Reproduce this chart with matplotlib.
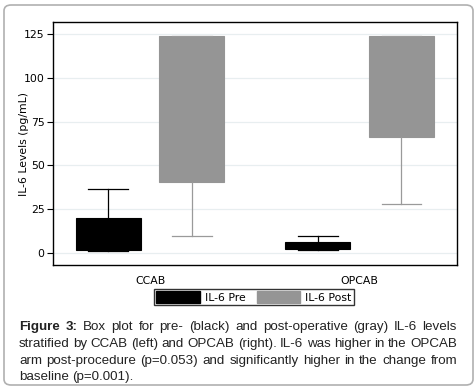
import matplotlib
matplotlib.use('Agg')
import matplotlib.pyplot as plt
from matplotlib.patches import FancyBboxPatch, Patch

# box stats (pg/mL)
groups = ['CCAB', 'OPCAB']
pre_q1 = [1.7, 2.3]
pre_q3 = [20.1, 6.1]
pre_lo = [1.3, 2.0]
pre_hi = [36.7, 9.9]
post_q1 = [40.5, 66.4]
post_q3 = [123.8, 123.8]
post_lo = [9.7, 28.0]
post_hi = [123.8, 123.8]
yticks = [0, 25, 50, 75, 100, 125]

caption_lines = [
    "Figure 3: Box plot for pre- (black) and post-operative (gray) IL-6 levels",
    "stratified by CCAB (left) and OPCAB (right).  IL-6 was higher in the OPCAB",
    "arm post-procedure (p=0.053) and significantly higher in the change from",
    "baseline (p=0.001).",
]

W, H = 477, 387
fig = plt.figure(figsize=(W / 100, H / 100), dpi=100)

# rounded outer frame
fig.patches.append(FancyBboxPatch((4 / W, 2 / H), 469 / W, 380 / H,
                                  boxstyle='round,pad=0,rounding_size=0.015',
                                  transform=fig.transFigure, fc='none',
                                  ec='#b0b0b0', lw=1.2, zorder=-1))

ax = fig.add_axes([53 / W, 1 - 265 / H, 404 / W, 243 / H])


def make_stats(q1, q3, lo, hi):
    return [dict(q1=a, q3=b, whislo=c, whishi=d, med=(a + b) / 2, fliers=[])
            for a, b, c, d in zip(q1, q3, lo, hi)]


pos = [1, 2]
ax.bxp(make_stats(pre_q1, pre_q3, pre_lo, pre_hi), positions=[p - 0.2 for p in pos],
       widths=0.31, capwidths=0.19, patch_artist=True, showfliers=False,
       boxprops=dict(facecolor='black', edgecolor='black', lw=0.8),
       medianprops=dict(color='black', lw=0),
       whiskerprops=dict(color='black', lw=0.9), capprops=dict(color='black', lw=0.9))
ax.bxp(make_stats(post_q1, post_q3, post_lo, post_hi), positions=[p + 0.2 for p in pos],
       widths=0.31, capwidths=0.19, patch_artist=True, showfliers=False,
       boxprops=dict(facecolor='#959595', edgecolor='#959595', lw=0.8),
       medianprops=dict(color='#959595', lw=0),
       whiskerprops=dict(color='#9a9a9a', lw=0.9), capprops=dict(color='#9a9a9a', lw=0.9))

ax.set_xlim(0.537, 2.465)
ax.set_ylim(-6.8, 131.8)
ax.set_xticks(pos)
ax.set_xticklabels(groups, fontsize=7.8)
ax.set_yticks(yticks)
ax.set_yticklabels([str(t) for t in yticks], fontsize=7.8)
ax.tick_params(axis='x', length=0, pad=8)
ax.tick_params(axis='y', length=4, width=0.8, pad=2)
ax.yaxis.grid(True, color='#e8eef0', lw=0.9)
ax.set_axisbelow(True)
for s in ax.spines.values():
    s.set_linewidth(1.0)
ax.set_ylabel('IL-6 Levels (pg/mL)', fontsize=7.8)
ax.yaxis.set_label_coords(-0.06, 0.5)

fig.legend(handles=[Patch(fc='black', ec='black', label='IL-6 Pre'),
                    Patch(fc='#959595', ec='#959595', label='IL-6 Post')],
           loc='center', bbox_to_anchor=(254 / W, 1 - 297 / H), ncol=2,
           fontsize=7.8, frameon=True, fancybox=False, edgecolor='black',
           handlelength=4.0, handleheight=1.2, columnspacing=1.0,
           handletextpad=0.5, borderpad=0.25, borderaxespad=0)

# justified caption
fig.canvas.draw()
renderer = fig.canvas.get_renderer()
x0, x1 = 19, 457
ys = [327, 344, 361, 377]
for i, (line, yy) in enumerate(zip(caption_lines, ys)):
    words = line.split()
    arts = []
    for j, w in enumerate(words):
        bold = i == 0 and j < 2
        t = fig.text(0, 1 - yy / H, w, fontsize=9.6, family='Liberation Sans',
                     fontweight='bold' if bold else 'normal', va='center', ha='left',
                     color='#222222')
        arts.append(t)
    widths = [a.get_window_extent(renderer).width for a in arts]
    if i < len(caption_lines) - 1:
        gap = (x1 - x0 - sum(widths)) / (len(words) - 1)
    else:
        gap = 3.0
    x = x0
    for a, w in zip(arts, widths):
        a.set_x(x / W)
        x += w + gap

fig.savefig('out.png', dpi=100)
